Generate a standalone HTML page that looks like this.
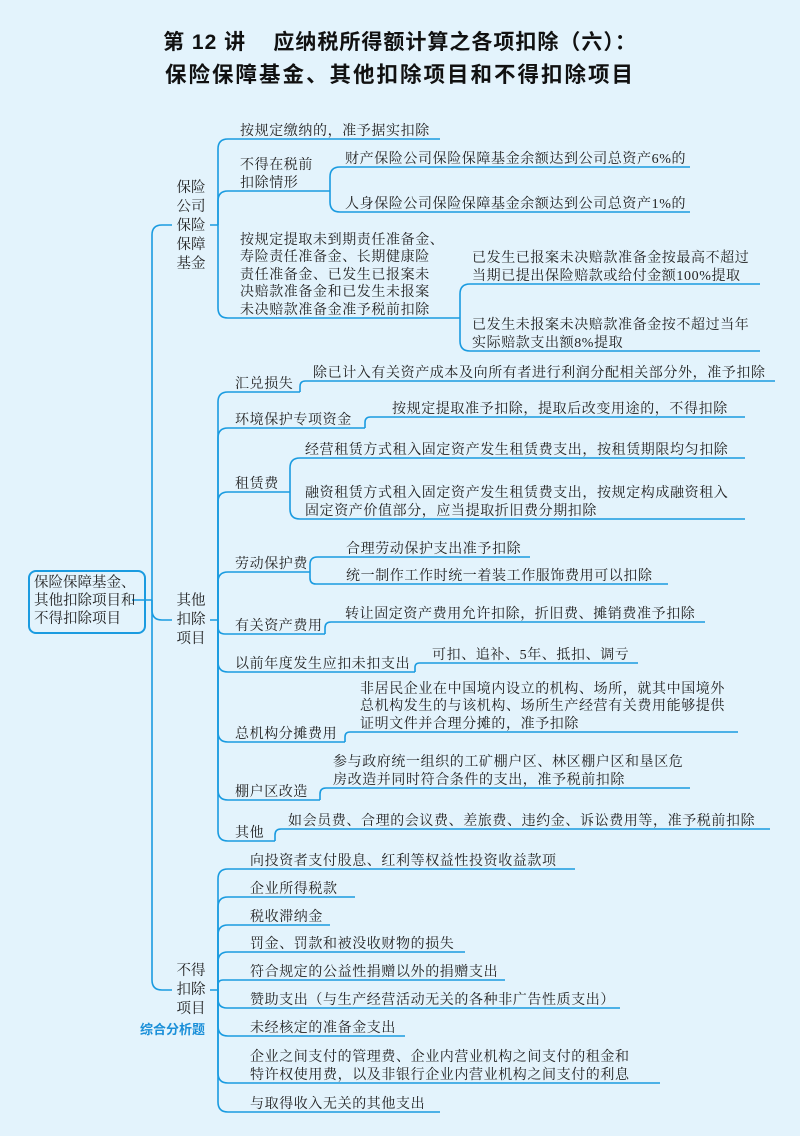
<!DOCTYPE html>
<html><head><meta charset="utf-8">
<style>
html,body{margin:0;padding:0}
body{width:800px;height:1136px;background:#e3f3fc;position:relative;overflow:hidden;font-family:"Liberation Serif","Noto Serif CJK SC",serif;color:#222}
.t{position:absolute;font-size:14px;letter-spacing:0.6px;line-height:17.5px;white-space:nowrap}
.title{position:absolute;left:0;width:800px;text-align:center;font-weight:bold;font-size:21px;letter-spacing:1px;color:#111;font-family:"Liberation Sans","Noto Sans CJK SC",sans-serif}
svg{position:absolute;left:0;top:0}
.root{position:absolute;left:28px;top:570px;width:106px;height:56px;border:2px solid #1a9be0;border-radius:8px;padding:2px 4px;font-size:14.5px;line-height:18px;white-space:nowrap}
.v{position:absolute;font-size:14.5px;line-height:19px;width:30px;text-align:center}
</style></head><body>
<div class="title" style="top:26px">第 12 讲&nbsp;&nbsp;&nbsp;&nbsp;应纳税所得额计算之各项扣除（六）：</div>
<div class="title" style="top:58px;font-size:21.5px;letter-spacing:2px">保险保障基金、其他扣除项目和不得扣除项目</div>
<svg id="s" width="800" height="1136"></svg>
<div class="root">保险保障基金、<br>其他扣除项目和<br>不得扣除项目</div>
<div class="v" style="left:176px;top:179px">保险公司保险保障基金</div>
<div class="v" style="left:176px;top:592px">其他扣除项目</div>
<div class="v" style="left:176px;top:962px">不得扣除项目</div>
<div class="t" style="left:140px;top:1021px;color:#1a8fd8;font-weight:bold;font-family:'Liberation Sans','Noto Sans CJK SC',sans-serif;font-size:13px;letter-spacing:0">综合分析题</div>
<div id="c"></div>
<script>
var s=document.getElementById('s'),c=document.getElementById('c'),P='';
function br(tx,mid,y,x2){var d=y-mid,r=Math.min(10,Math.abs(d)/2);
 if(Math.abs(d)<1){P+='<path d="M'+tx+' '+y+'L'+x2+' '+y+'"/>';return;}
 var sg=d>0?1:-1;
 P+='<path d="M'+tx+' '+mid+'L'+tx+' '+(y-sg*r)+'Q'+tx+' '+y+' '+(tx+r)+' '+y+'L'+x2+' '+y+'"/>';}
function T(x,y,lines){var n=lines.length;c.innerHTML+='<div class="t" style="left:'+x+'px;top:'+(y-n*17.5+1)+'px">'+lines.join('<br>')+'</div>';}
P+='<path d="M132 600L152 600"/>';
br(152,600,225,172);br(152,600,620,172);br(152,600,990,172);
P+='<path d="M210 225L218 225M210 620L218 620M210 990L218 990"/>';
[[139,440],[191,330],[318,460]].forEach(function(a){br(218,225,a[0],a[1])});
T(240,139,['按规定缴纳的，准予据实扣除']);
T(240,191,['不得在税前','扣除情形']);
T(240,318,['按规定提取未到期责任准备金、','寿险责任准备金、长期健康险','责任准备金、已发生已报案未','决赔款准备金和已发生未报案','未决赔款准备金准予税前扣除']);
br(330,191,167,690);br(330,191,212,690);
T(345,167,['财产保险公司保险保障基金余额达到公司总资产6%的']);
T(345,212,['人身保险公司保险保障基金余额达到公司总资产1%的']);
br(460,318,284,760);br(460,318,351,760);
T(472,284,['已发生已报案未决赔款准备金按最高不超过','当期已提出保险赔款或给付金额100%提取']);
T(472,351,['已发生未报案未决赔款准备金按不超过当年','实际赔款支出额8%提取']);
[[392,300],[428,365],[492,290],[572,310],[634,325],[672,415],[742,345],[800,320],[841,275]].forEach(function(a){br(218,620,a[0],a[1])});
T(235,392,['汇兑损失']);T(235,428,['环境保护专项资金']);T(235,492,['租赁费']);T(235,572,['劳动保护费']);
T(235,634,['有关资产费用']);T(235,672,['以前年度发生应扣未扣支出']);T(235,742,['总机构分摊费用']);T(235,800,['棚户区改造']);T(235,841,['其他']);
br(300,392,381,775);T(313,381,['除已计入有关资产成本及向所有者进行利润分配相关部分外，准予扣除']);
br(365,428,417,745);T(392,417,['按规定提取准予扣除，提取后改变用途的，不得扣除']);
br(290,492,458,745);br(290,492,519,745);
T(305,458,['经营租赁方式租入固定资产发生租赁费支出，按租赁期限均匀扣除']);
T(305,519,['融资租赁方式租入固定资产发生租赁费支出，按规定构成融资租入','固定资产价值部分，应当提取折旧费分期扣除']);
br(310,572,557,530);br(310,572,584,668);
T(346,557,['合理劳动保护支出准予扣除']);T(346,584,['统一制作工作时统一着装工作服饰费用可以扣除']);
br(325,634,622,705);T(345,622,['转让固定资产费用允许扣除，折旧费、摊销费准予扣除']);
br(415,672,663,638);T(432,663,['可扣、追补、5年、抵扣、调亏']);
br(345,742,732,738);T(360,732,['非居民企业在中国境内设立的机构、场所，就其中国境外','总机构发生的与该机构、场所生产经营有关费用能够提供','证明文件并合理分摊的，准予扣除']);
br(320,800,788,690);T(333,788,['参与政府统一组织的工矿棚户区、林区棚户区和垦区危','房改造并同时符合条件的支出，准予税前扣除']);
br(275,841,829,770);T(288,829,['如会员费、合理的会议费、差旅费、违约金、诉讼费用等，准予税前扣除']);
var C=[[869,575,['向投资者支付股息、红利等权益性投资收益款项']],[897,355,['企业所得税款']],[925,330,['税收滞纳金']],[952,465,['罚金、罚款和被没收财物的损失']],[980,505,['符合规定的公益性捐赠以外的捐赠支出']],[1008,620,['赞助支出（与生产经营活动无关的各种非广告性质支出）']],[1036,405,['未经核定的准备金支出']],[1083,660,['企业之间支付的管理费、企业内营业机构之间支付的租金和','特许权使用费，以及非银行企业内营业机构之间支付的利息']],[1112,440,['与取得收入无关的其他支出']]];
C.forEach(function(a){br(218,990,a[0],a[1]);T(250,a[0],a[2]);});
s.innerHTML='<g fill="none" stroke="#1a9be0" stroke-width="1.6">'+P+'</g>';
</script>
</body></html>
